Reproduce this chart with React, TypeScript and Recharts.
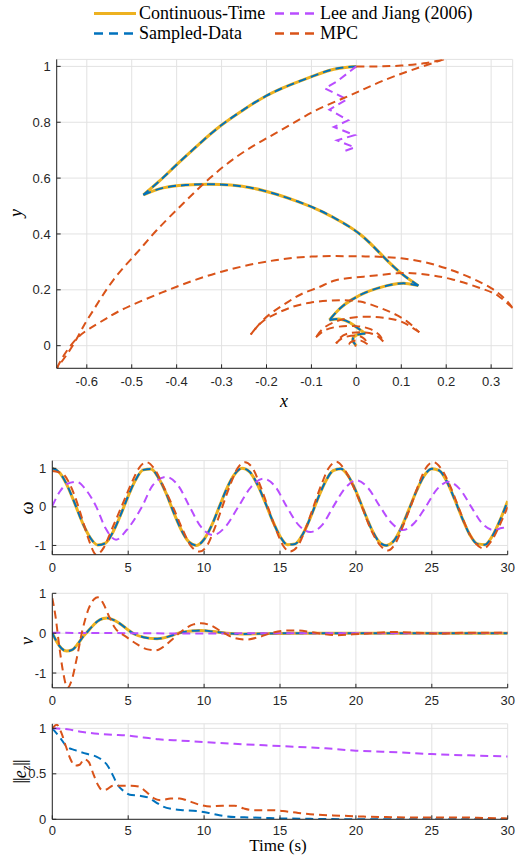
import React from "react";
import { LineChart, Line, XAxis, YAxis, CartesianGrid } from "recharts";

const CT_COLOR = "#EDB120";
const SD_COLOR = "#0072BD";
const LJ_COLOR = "#B94DFF";
const MPC_COLOR = "#D95319";

// ---- top panel: trajectories in the (x, y) plane, split at the cusps
const ctPathXY: [number, number][][] = [
  [[0, 1.0], [-0.05, 0.99], [-0.1, 0.963], [-0.15, 0.932], [-0.2, 0.895], [-0.25, 0.846],
    [-0.3, 0.79], [-0.35, 0.722], [-0.4, 0.648], [-0.44, 0.587], [-0.474, 0.54]],
  [[-0.474, 0.54], [-0.43, 0.565], [-0.38, 0.575], [-0.33, 0.578], [-0.28, 0.575], [-0.23, 0.564],
    [-0.18, 0.543], [-0.13, 0.516], [-0.08, 0.483], [-0.03, 0.44], [0.015, 0.39], [0.06, 0.319],
    [0.1, 0.259], [0.138, 0.215]],
  [[0.138, 0.215], [0.11, 0.223], [0.08, 0.219], [0.05, 0.207], [0.02, 0.19], [-0.01, 0.165],
    [-0.036, 0.134], [-0.06, 0.092]],
  [[-0.06, 0.092], [-0.036, 0.095], [-0.015, 0.083], [0.004, 0.062], [0.02, 0.044]],
  [[0.02, 0.044], [0.0, 0.038], [-0.008, 0.02], [0.0, 0.0]],
];
const sdPathXY = ctPathXY;

const ljPathXY: [number, number][] = [
  [0, 1.0], [-0.044, 0.945], [-0.07, 0.921], [-0.021, 0.882], [-0.06, 0.845], [-0.018, 0.807],
  [-0.05, 0.783], [-0.004, 0.754], [-0.043, 0.735], [-0.004, 0.71], [-0.033, 0.693],
];

const mpcPathXY: [number, number][][] = [
  [[0, 1.0], [0.05, 1.0], [0.1, 1.003], [0.15, 1.011], [0.195, 1.025]],
  [[0.195, 1.025], [0.12, 0.985], [0.06, 0.949], [0.016, 0.918], [-0.029, 0.886], [-0.088, 0.844],
    [-0.148, 0.79], [-0.207, 0.736], [-0.266, 0.677], [-0.326, 0.6], [-0.385, 0.51], [-0.444, 0.414],
    [-0.49, 0.33], [-0.541, 0.235], [-0.585, 0.128], [-0.608, 0.068], [-0.633, -0.004], [-0.667, -0.081]],
  [[-0.667, -0.081], [-0.648, -0.027], [-0.622, 0.026], [-0.593, 0.062], [-0.556, 0.098],
    [-0.507, 0.14], [-0.4, 0.211], [-0.3, 0.265], [-0.2, 0.301], [-0.1, 0.319], [0, 0.32],
    [0.1, 0.313], [0.2, 0.277], [0.3, 0.206], [0.348, 0.135]],
  [[0.348, 0.135], [0.316, 0.178], [0.283, 0.202], [0.212, 0.238], [0.142, 0.257], [0.09, 0.259],
    [0.016, 0.247], [-0.044, 0.235], [-0.081, 0.211], [-0.118, 0.188], [-0.151, 0.158],
    [-0.185, 0.122], [-0.211, 0.086], [-0.235, 0.04]],
  [[-0.235, 0.04], [-0.21, 0.085], [-0.177, 0.116], [-0.14, 0.14], [-0.103, 0.154], [-0.066, 0.161],
    [-0.03, 0.163], [0.008, 0.158], [0.045, 0.14], [0.079, 0.118], [0.112, 0.088], [0.14, 0.048]],
  [[0.14, 0.048], [0.1, 0.086], [0.06, 0.1], [0.02, 0.104], [-0.02, 0.098], [-0.051, 0.083],
    [-0.075, 0.06], [-0.09, 0.03]],
  [[-0.09, 0.03], [-0.07, 0.055], [-0.04, 0.068], [0, 0.07], [0.03, 0.06], [0.05, 0.04], [0.06, 0.015]],
  [[0.06, 0.015], [0.04, 0.04], [0.01, 0.048], [-0.02, 0.043], [-0.037, 0.027], [-0.045, 0.008]],
  [[-0.045, 0.008], [-0.03, 0.028], [0, 0.036], [0.018, 0.024], [0.025, 0.005]],
  [[0.025, 0.005], [0.01, 0.018], [-0.008, 0.016], [-0.015, 0.005], [0, 0.0]],
];

const xyXTicks = [-0.6, -0.5, -0.4, -0.3, -0.2, -0.1, 0, 0.1, 0.2, 0.3];
const xyYTicks = [0, 0.2, 0.4, 0.6, 0.8, 1];

// ---- omega(t)
const omegaCT: [number, number][] = [
  [0, 1], [0.5, 0.88], [1, 0.54], [1.5, 0.07], [2, -0.42], [2.5, -0.8], [3, -0.99], [3.5, -0.94],
  [4, -0.65], [4.5, -0.21], [5, 0.28], [5.5, 0.71], [6, 0.96], [6.5, 0.98], [7, 0.75], [7.5, 0.35],
  [8, -0.15], [8.5, -0.6], [9, -0.91], [9.5, -1.0], [10, -0.84], [10.5, -0.48], [11, 0.0],
  [11.5, 0.48], [12, 0.84], [12.5, 1.0], [13, 0.91], [13.5, 0.59], [14, 0.14], [14.5, -0.35],
  [15, -0.76], [15.5, -0.98], [16, -0.96], [16.5, -0.71], [17, -0.28], [17.5, 0.22], [18, 0.66],
  [18.5, 0.94], [19, 0.99], [19.5, 0.8], [20, 0.41], [20.5, -0.08], [21, -0.55], [21.5, -0.89],
  [22, -1.0], [22.5, -0.88], [23, -0.53], [23.5, -0.06], [24, 0.42], [24.5, 0.81], [25, 0.99],
  [25.5, 0.94], [26, 0.65], [26.5, 0.2], [27, -0.29], [27.5, -0.72], [28, -0.96], [28.5, -0.98],
  [29, -0.75], [29.5, -0.34], [30, 0.15],
];
const omegaSD = omegaCT;
const omegaLJ: [number, number][] = [
  [0, 0.02], [0.5, 0.4], [1.0, 0.6], [1.6, 0.65], [2.2, 0.45], [2.9, 0.0], [3.5, -0.55], [4.2, -0.85],
  [4.9, -0.6], [5.9, 0.0], [6.6, 0.55], [7.5, 0.78], [8.3, 0.55], [9.05, 0.0], [9.8, -0.52],
  [10.6, -0.73], [11.4, -0.52], [12.25, 0.0], [13.1, 0.52], [13.9, 0.73], [14.7, 0.52], [15.45, 0.0],
  [16.2, -0.46], [17.0, -0.65], [17.8, -0.46], [18.5, 0.0], [19.3, 0.49], [20.05, 0.69], [20.8, 0.49],
  [21.6, 0.0], [22.35, -0.42], [23.1, -0.6], [23.85, -0.42], [24.6, 0.0], [25.35, 0.46], [26.1, 0.65],
  [26.85, 0.46], [27.6, 0.0], [28.3, -0.42], [29.05, -0.6], [29.6, -0.55], [30, -0.52],
];
const omegaMPC: [number, number][] = [
  [0, 0.93], [0.4, 0.9], [0.8, 0.82], [1.2, 0.55], [1.6, 0.15], [2.0, -0.35], [2.4, -0.85], [2.9, -1.24],
  [3.4, -1.05], [3.9, -0.6], [4.55, 0.0], [5.2, 0.6], [5.7, 1.0], [6.2, 1.16], [6.7, 1.0], [7.3, 0.55],
  [7.95, 0.0], [8.6, -0.6], [9.1, -1.0], [9.7, -1.16], [10.2, -1.0], [10.7, -0.55], [11.2, 0.0],
  [11.7, 0.55], [12.2, 1.0], [12.7, 1.16], [13.2, 1.0], [13.7, 0.55], [14.2, 0.0], [14.7, -0.55],
  [15.2, -1.0], [15.65, -1.16], [16.2, -1.0], [16.7, -0.55], [17.2, 0.0], [17.7, 0.55], [18.2, 1.0],
  [18.7, 1.17], [19.2, 1.0], [19.8, 0.55], [20.4, 0.0], [21.0, -0.6], [21.6, -1.0], [22.1, -1.13],
  [22.6, -0.95], [23.1, -0.5], [23.6, 0.0], [24.1, 0.55], [24.6, 1.0], [25.1, 1.16], [25.6, 1.0],
  [26.2, 0.55], [26.75, 0.0], [27.3, -0.55], [27.9, -0.95], [28.4, -1.08], [28.9, -0.9], [29.5, -0.45],
  [30, 0.0],
];

// ---- v(t)
const vCT: [number, number][] = [
  [0, 0], [0.3, -0.22], [0.6, -0.38], [0.95, -0.45], [1.3, -0.42], [1.7, -0.26], [2.0, -0.1],
  [2.3, 0.03], [2.7, 0.2], [3.1, 0.33], [3.6, 0.38], [4.1, 0.32], [4.6, 0.2], [5.0, 0.08],
  [5.4, -0.02], [6.0, -0.1], [6.9, -0.14], [7.7, -0.08], [8.3, 0.0], [9.0, 0.05], [9.8, 0.07],
  [10.6, 0.04], [11.5, 0.0], [12.5, -0.02], [14, -0.01], [16, 0], [20, 0], [25, 0], [30, 0],
];
const vSD = vCT;
const vLJ: [number, number][] = [
  [0, 0.01], [5, 0.0], [10, -0.01], [15, 0.0], [20, 0.0], [25, 0.0], [30, 0.01],
];
const vMPC: [number, number][] = [
  [0, 0.88], [0.2, 0.45], [0.45, -0.3], [0.7, -0.95], [1.0, -1.37], [1.3, -1.15], [1.6, -0.65],
  [2.0, 0.1], [2.4, 0.62], [2.75, 0.85], [3.0, 0.9], [3.35, 0.75], [3.7, 0.45], [4.1, 0.15],
  [4.9, -0.1], [5.6, -0.28], [6.2, -0.4], [6.8, -0.43], [7.4, -0.32], [8.0, -0.12], [8.7, 0.1],
  [9.3, 0.22], [9.8, 0.25], [10.4, 0.2], [11.2, 0.03], [12.0, -0.12], [12.8, -0.16], [13.6, -0.1],
  [14.4, 0.0], [15.2, 0.06], [16.0, 0.07], [17.0, 0.03], [18.0, -0.03], [18.8, -0.05], [19.8, -0.03],
  [21, 0.0], [22.5, 0.03], [24, 0.01], [25.5, -0.01], [27, 0.01], [28.5, 0.01], [30, 0.01],
];

// ---- ||e_z||(t)
const ezSD: [number, number][] = [
  [0, 1.0], [0.5, 0.9], [0.95, 0.8], [1.5, 0.76], [2.26, 0.72], [2.9, 0.69], [3.3, 0.65], [3.6, 0.6],
  [4.0, 0.48], [4.3, 0.38], [4.7, 0.31], [5.1, 0.27], [5.7, 0.26], [6.3, 0.24], [6.8, 0.19],
  [7.3, 0.14], [8.0, 0.11], [8.6, 0.1], [9.5, 0.09], [10.3, 0.07], [11, 0.045], [12, 0.025],
  [13, 0.02], [14, 0.015], [15, 0.01], [17, 0.005], [20, 0.0], [25, 0.0], [30, 0.0],
];
const ezLJ: [number, number][] = [
  [0, 1.0], [1, 0.99], [2, 0.96], [3, 0.94], [4, 0.93], [5, 0.92], [6, 0.9], [7, 0.88], [8, 0.87],
  [10, 0.85], [12, 0.83], [15, 0.805], [18, 0.78], [20, 0.755], [23, 0.735], [25, 0.717], [28, 0.7],
  [30, 0.69],
];
const ezMPC: [number, number][] = [
  [0, 1.0], [0.3, 1.04], [0.6, 0.95], [0.9, 0.8], [1.2, 0.66], [1.5, 0.59], [1.8, 0.6], [2.1, 0.66],
  [2.4, 0.63], [2.7, 0.5], [3.0, 0.38], [3.3, 0.32], [3.6, 0.33], [4.0, 0.37], [4.6, 0.37],
  [5.2, 0.37], [5.7, 0.36], [6.2, 0.3], [6.7, 0.23], [7.2, 0.21], [7.8, 0.23], [8.4, 0.23],
  [9.0, 0.2], [9.7, 0.16], [10.4, 0.14], [11.2, 0.15], [12.0, 0.15], [12.6, 0.12], [13.3, 0.1],
  [14.5, 0.1], [15.2, 0.09], [16.2, 0.07], [17.5, 0.05], [19, 0.04], [20.5, 0.03], [22, 0.025],
  [24, 0.02], [25, 0.02], [27, 0.02], [28.5, 0.015], [30, 0.01],
];

const timeTicks = [0, 5, 10, 15, 20, 25, 30];

const toXY = (a: [number, number][]) => a.map(([x, y]) => ({ x, y }));
const toTV = (a: [number, number][]) => a.map(([t, v]) => ({ t, v }));

const AXIS = "#262626";
const GRID = "#e2e2e2";
const tickFont = { fontFamily: "'Liberation Sans', Arial, sans-serif", fontSize: 13, fill: AXIS };
const serif = "'Liberation Serif', 'Times New Roman', serif";
const DASH = "8 5";

type Series = { data: [number, number][]; color: string; width: number; dash?: string };

function TimePlot(props: {
  top: number; height: number; mTop: number; xh: number; mBottom: number; tickGap: number;
  domain: [number, number]; yTicks: number[]; series: Series[]; box?: boolean;
}) {
  const { top, height, mTop, xh, mBottom, tickGap, domain, yTicks, series, box } = props;
  return (
    <div style={{ position: "absolute", left: 0, top }}>
      <LineChart width={519} height={height} margin={{ top: mTop, right: 11.3, bottom: mBottom, left: 0 }}>
        <CartesianGrid stroke={GRID} />
        <XAxis dataKey="t" type="number" domain={[0, 30]} ticks={timeTicks} interval={0} allowDataOverflow
          height={xh} tickSize={-4} tickMargin={tickGap} stroke={AXIS} tick={tickFont} />
        <YAxis type="number" domain={domain} ticks={yTicks} interval={0} allowDataOverflow
          width={52.3} tickSize={-4} tickMargin={10} stroke={AXIS} tick={tickFont} />
        {box && (
          <XAxis xAxisId="top" orientation="top" type="number" domain={[0, 30]} ticks={timeTicks}
            height={0} tickSize={-4} tick={false} stroke={AXIS} />
        )}
        {box && (
          <YAxis yAxisId="right" orientation="right" type="number" domain={domain} ticks={yTicks}
            width={0} tickSize={-4} tick={false} stroke={AXIS} />
        )}
        {series.map((s, i) => (
          <Line key={i} data={toTV(s.data)} dataKey="v" type="monotone" stroke={s.color}
            strokeWidth={s.width} strokeDasharray={s.dash} dot={false} isAnimationActive={false} />
        ))}
      </LineChart>
    </div>
  );
}

function Legend() {
  const row = (y: number, x0: number, color: string, w: number, dash: string | undefined, label: string) => (
    <g>
      <line x1={x0} x2={x0 + 42} y1={y - 5} y2={y - 5} stroke={color} strokeWidth={w} strokeDasharray={dash} />
      <text x={x0 + 45} y={y} fontFamily={serif} fontSize={18} fill="#000">{label}</text>
    </g>
  );
  return (
    <svg width={519} height={45} style={{ position: "absolute", left: 0, top: 0 }}>
      {row(18.5, 94, CT_COLOR, 3, undefined, "Continuous-Time")}
      {row(18.5, 275, LJ_COLOR, 2.5, "9 6", "Lee and Jiang (2006)")}
      {row(38.5, 94, SD_COLOR, 2.5, "9 6", "Sampled-Data")}
      {row(38.5, 275, MPC_COLOR, 2.5, "9 6", "MPC")}
    </svg>
  );
}

function AxisLabels() {
  return (
    <svg width={519} height={856} style={{ position: "absolute", left: 0, top: 0, pointerEvents: "none" }}
      fontFamily={serif} fontSize={18} fill="#000">
      <text x={284} y={407} textAnchor="middle" fontStyle="italic">x</text>
      <text transform="translate(22,213) rotate(-90)" textAnchor="middle" fontStyle="italic">y</text>
      <text transform="translate(33,508) rotate(-90)" textAnchor="middle" fontStyle="italic">ω</text>
      <text transform="translate(33,641) rotate(-90)" textAnchor="middle" fontStyle="italic">v</text>
      <text transform="translate(26,772) rotate(-90)" textAnchor="middle">
        <tspan letterSpacing={-1}>||</tspan>
        <tspan fontStyle="italic">e</tspan>
        <tspan fontStyle="italic" fontSize={12} dy={4}>z</tspan>
        <tspan dy={-4} letterSpacing={-1}>||</tspan>
      </text>
      <text x={278} y={851} textAnchor="middle" fontSize={17}>Time (s)</text>
    </svg>
  );
}

export default function App() {
  return (
    <div style={{ position: "absolute", left: 0, top: 0, width: 519, height: 856, background: "#fff" }}>
      <Legend />
      <div style={{ position: "absolute", left: 0, top: 45 }}>
        <LineChart width={519} height={375} margin={{ top: 14.4, right: 6.3, bottom: 21.7, left: 0 }}>
          <CartesianGrid stroke={GRID} />
          <XAxis dataKey="x" type="number" domain={[-0.667, 0.348]} ticks={xyXTicks} interval={0} allowDataOverflow
            height={30} tickSize={-4} tickMargin={12} stroke={AXIS} tick={tickFont} />
          <YAxis type="number" domain={[-0.081, 1.025]} ticks={xyYTicks} interval={0} allowDataOverflow
            width={56.7} tickSize={-4} tickMargin={10} stroke={AXIS} tick={tickFont} />
          {ctPathXY.map((seg, i) => (
            <Line key={"ct" + i} data={toXY(seg)} dataKey="y" type="natural" stroke={CT_COLOR} strokeWidth={3}
              dot={false} isAnimationActive={false} />
          ))}
          {sdPathXY.map((seg, i) => (
            <Line key={"sd" + i} data={toXY(seg)} dataKey="y" type="natural" stroke={SD_COLOR} strokeWidth={2}
              strokeDasharray={DASH} dot={false} isAnimationActive={false} />
          ))}
          <Line data={toXY(ljPathXY)} dataKey="y" type="linear" stroke={LJ_COLOR} strokeWidth={2}
            strokeDasharray={DASH} dot={false} isAnimationActive={false} />
          {mpcPathXY.map((seg, i) => (
            <Line key={"mpc" + i} data={toXY(seg)} dataKey="y" type="natural" stroke={MPC_COLOR} strokeWidth={2}
              strokeDasharray={DASH} dot={false} isAnimationActive={false} />
          ))}
        </LineChart>
      </div>
      <TimePlot top={440} height={140} mTop={20.6} xh={25} mBottom={0.3} tickGap={12} domain={[-1.24, 1.2]} yTicks={[-1, 0, 1]}
        series={[
          { data: omegaCT, color: CT_COLOR, width: 3 },
          { data: omegaSD, color: SD_COLOR, width: 2, dash: DASH },
          { data: omegaLJ, color: LJ_COLOR, width: 2, dash: DASH },
          { data: omegaMPC, color: MPC_COLOR, width: 2, dash: DASH },
        ]} />
      <TimePlot top={580} height={130} mTop={13.3} xh={22} mBottom={0.2} tickGap={12} domain={[-1.37, 1]} yTicks={[-1, 0, 1]}
        series={[
          { data: vCT, color: CT_COLOR, width: 3 },
          { data: vSD, color: SD_COLOR, width: 2, dash: DASH },
          { data: vLJ, color: LJ_COLOR, width: 2, dash: DASH },
          { data: vMPC, color: MPC_COLOR, width: 2, dash: DASH },
        ]} />
      <TimePlot top={710} height={146} mTop={13.8} xh={30} mBottom={6.7} tickGap={10} domain={[0, 1.05]} yTicks={[0, 0.5, 1]} box
        series={[
          { data: ezSD, color: SD_COLOR, width: 2, dash: DASH },
          { data: ezLJ, color: LJ_COLOR, width: 2, dash: DASH },
          { data: ezMPC, color: MPC_COLOR, width: 2, dash: DASH },
        ]} />
      <AxisLabels />
    </div>
  );
}
